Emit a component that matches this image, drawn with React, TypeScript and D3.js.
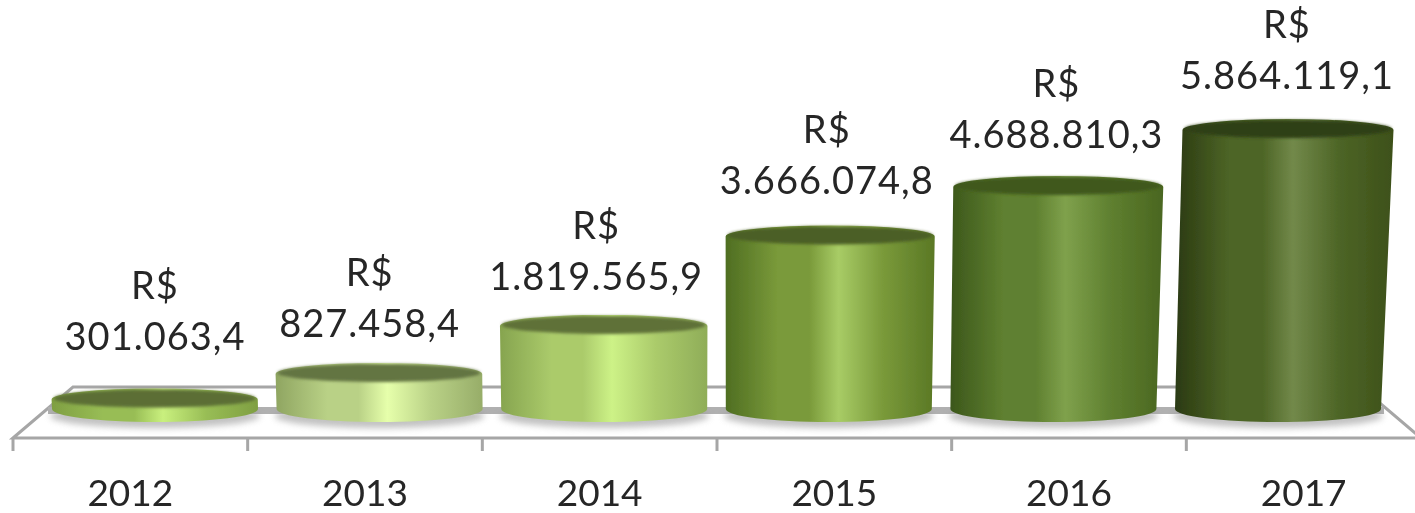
import * as d3 from "d3";

const years = ["2012", "2013", "2014", "2015", "2016", "2017"];
const values = [301063.4, 827458.4, 1819565.9, 3666074.8, 4688810.3, 5864119.1];
const valueLabels = ["301.063,4", "827.458,4", "1.819.565,9", "3.666.074,8", "4.688.810,3", "5.864.119,1"];
const leftEdge = ["#7f9f42", "#8fa561", "#86a44f", "#4f6e22", "#3c571b", "#2b3a12"];
const rightEdge = ["#7f9f42", "#97ad69", "#8fad58", "#5a7825", "#4a6620", "#3d5019"];
const midColors = ["#98bd55", "#b9d186", "#abcb6b", "#7a9a3a", "#5f8030", "#4d6526"];
const lightColors = ["#c9f07e", "#e6ffab", "#cdf287", "#a8cc66", "#7fa14c", "#72894a"];
const topColors = ["#5c6e36", "#637542", "#5f7139", "#4c5f25", "#40581c", "#2f4116"];
// data labels sit where Excel left them, not at a fixed distance from the bar
const labelShiftX = [0, -10, -8, -2, 3, 9];
const labelShiftY = [-8, 4, 5, -1, 2, 0];

const W = 1415;
const H = 513;
const floorLeft = 13;
const floorRight = 1421;
const floorFront = 438;
const floorBack = 387;
const floorInset = 60;
const baseY = 409;
const rx = 103;
const ry = 12;
const chartCenter = 700;
const textColor = "#262626";
const axisColor = "#a6a6a6";
const font = "Lato, 'Open Sans', sans-serif";

export default function App() {
  const x = d3.scaleBand<string>().domain(years).range([42.7, 1390.3]);
  const tick = d3.scaleBand<string>().domain(years).range([floorLeft, floorRight]);
  const y = d3.scaleLinear().domain([0, 5864119.1]).range([414, 130]);
  const ticks = [...years.map((d) => tick(d)!), floorRight];
  const floor = d3.line()([
    [floorLeft, floorFront],
    [floorLeft + floorInset, floorBack],
    [floorRight - floorInset, floorBack],
    [floorRight, floorFront],
  ] as [number, number][]) + "Z";

  // tall bars fan out a little: the picture has a slight perspective
  const topCenter = (cx: number, top: number) => cx + (baseY - top) * (cx - chartCenter) * 6.2e-5;

  return (
    <svg width={W} height={H} viewBox={`0 0 ${W} ${H}`} style={{ position: "absolute", left: 0, top: 0, background: "#fff" }}>
      <defs>
        <filter id="soft" x="-5%" y="-5%" width="110%" height="110%">
          <feGaussianBlur stdDeviation="0.6" />
        </filter>
        <filter id="rim" x="-5%" y="-50%" width="110%" height="200%">
          <feGaussianBlur stdDeviation="1.6" />
        </filter>
        <filter id="shadow" x="-10%" y="-100%" width="120%" height="300%">
          <feGaussianBlur stdDeviation="3" />
        </filter>
        {years.map((yr, i) => (
          <linearGradient key={yr} id={`side-${yr}`} x1="0" x2="1" y1="0" y2="0">
            <stop offset="0" stopColor={leftEdge[i]} />
            <stop offset="0.25" stopColor={midColors[i]} />
            <stop offset="0.4" stopColor={midColors[i]} />
            <stop offset="0.54" stopColor={lightColors[i]} />
            <stop offset="0.75" stopColor={midColors[i]} />
            <stop offset="1" stopColor={rightEdge[i]} />
          </linearGradient>
        ))}
      </defs>

      <g filter="url(#soft)">
        <path d={floor} fill="#fff" stroke={axisColor} strokeWidth={3} />
        <rect x={floorLeft + 35} y={407} width={floorRight - floorLeft - 72} height={7} fill="#b0b0b0" />
        {ticks.map((t) => (
          <line key={t} x1={t} x2={t} y1={floorFront} y2={451} stroke={axisColor} strokeWidth={3} />
        ))}

        {years.map((yr, i) => {
          const cx = x(yr)! + x.bandwidth() / 2;
          const top = y(values[i]);
          const tx = topCenter(cx, top);
          const trx = rx + (baseY - top) * 0.009;
          const side = `M${tx - trx},${top} L${cx - rx},${baseY} A${rx},${ry + 1} 0 0 0 ${cx + rx},${baseY} L${tx + trx},${top} A${trx},${ry - 1} 0 0 0 ${tx - trx},${top} Z`;
          return (
            <g key={yr}>
              <ellipse cx={cx} cy={baseY + 7} rx={rx + 2} ry={ry} fill="#999" opacity={0.6} filter="url(#shadow)" />
              <path d={side} fill={`url(#side-${yr})`} />
              <ellipse cx={tx} cy={top - 1} rx={trx - 2} ry={ry - 3} fill={topColors[i]} filter="url(#rim)" />
            </g>
          );
        })}

        {years.map((yr, i) => {
          const lx = x(yr)! + x.bandwidth() / 2 + labelShiftX[i];
          const ly = y(values[i]) - 41 + labelShiftY[i];
          return (
            <g key={yr} fill={textColor} fontFamily={font} fontSize={38} letterSpacing={1} textAnchor="middle">
              <text x={lx} y={ly - 51}>R$</text>
              <text x={lx} y={ly}>{valueLabels[i]}</text>
            </g>
          );
        })}

        {years.map((yr) => (
          <text key={yr} x={tick(yr)! + tick.bandwidth() / 2} y={506} fill={textColor} fontFamily={font} fontSize={37} textAnchor="middle">
            {yr}
          </text>
        ))}
      </g>
    </svg>
  );
}
